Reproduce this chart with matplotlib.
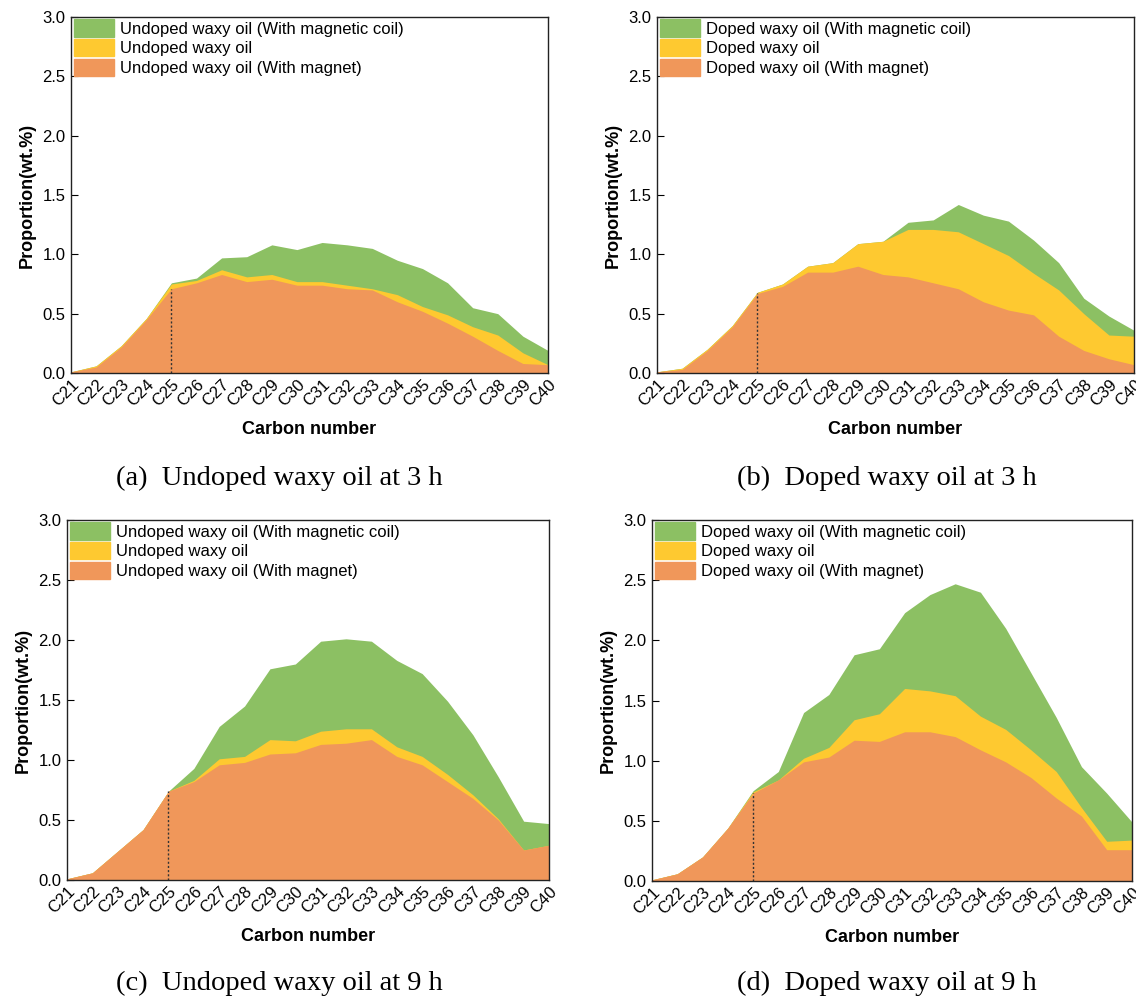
import numpy as np
import matplotlib
matplotlib.use("Agg")
import matplotlib.pyplot as plt
from matplotlib.patches import Patch

plt.rcParams['font.family'] = ['Liberation Sans', 'DejaVu Sans']

carbons = ["C%d" % n for n in range(21, 41)]

# (a) undoped, 3 h
a_coil = [0.01, 0.06, 0.23, 0.46, 0.76, 0.80, 0.97, 0.98, 1.08, 1.04, 1.10, 1.08, 1.05, 0.95, 0.88, 0.76, 0.55, 0.50, 0.31, 0.19]
a_plain = [0.01, 0.06, 0.23, 0.46, 0.75, 0.78, 0.87, 0.81, 0.83, 0.77, 0.77, 0.74, 0.71, 0.66, 0.56, 0.49, 0.39, 0.32, 0.17, 0.07]
a_magnet = [0.01, 0.05, 0.22, 0.45, 0.71, 0.76, 0.83, 0.77, 0.79, 0.74, 0.74, 0.71, 0.70, 0.60, 0.52, 0.42, 0.31, 0.19, 0.08, 0.07]

# (b) doped, 3 h
b_coil = [0.01, 0.04, 0.20, 0.40, 0.68, 0.75, 0.90, 0.93, 1.09, 1.11, 1.27, 1.29, 1.42, 1.33, 1.28, 1.12, 0.93, 0.63, 0.48, 0.36]
b_plain = [0.01, 0.04, 0.20, 0.40, 0.68, 0.75, 0.90, 0.93, 1.09, 1.11, 1.21, 1.21, 1.19, 1.09, 0.99, 0.84, 0.70, 0.50, 0.32, 0.31]
b_magnet = [0.01, 0.03, 0.19, 0.39, 0.67, 0.73, 0.85, 0.85, 0.90, 0.83, 0.81, 0.76, 0.71, 0.60, 0.53, 0.49, 0.31, 0.19, 0.12, 0.07]

# (c) undoped, 9 h
c_coil = [0.01, 0.06, 0.24, 0.42, 0.74, 0.93, 1.28, 1.45, 1.76, 1.80, 1.99, 2.01, 1.99, 1.83, 1.72, 1.49, 1.21, 0.86, 0.49, 0.47]
c_plain = [0.01, 0.06, 0.24, 0.42, 0.74, 0.83, 1.01, 1.03, 1.17, 1.16, 1.24, 1.26, 1.26, 1.11, 1.03, 0.88, 0.71, 0.51, 0.25, 0.29]
c_magnet = [0.01, 0.06, 0.24, 0.42, 0.74, 0.82, 0.96, 0.98, 1.05, 1.06, 1.13, 1.14, 1.17, 1.03, 0.96, 0.82, 0.68, 0.50, 0.25, 0.29]

# (d) doped, 9 h
d_coil = [0.01, 0.06, 0.20, 0.44, 0.75, 0.91, 1.40, 1.55, 1.88, 1.93, 2.23, 2.38, 2.47, 2.40, 2.10, 1.73, 1.36, 0.95, 0.73, 0.49]
d_plain = [0.01, 0.06, 0.20, 0.44, 0.74, 0.84, 1.02, 1.11, 1.34, 1.39, 1.60, 1.58, 1.54, 1.37, 1.26, 1.09, 0.91, 0.61, 0.33, 0.34]
d_magnet = [0.01, 0.06, 0.20, 0.44, 0.73, 0.84, 0.99, 1.03, 1.17, 1.16, 1.24, 1.24, 1.20, 1.09, 0.99, 0.86, 0.69, 0.54, 0.26, 0.26]

undoped_labels = ["Undoped waxy oil (With magnetic coil)", "Undoped waxy oil", "Undoped waxy oil (With magnet)"]
doped_labels = ["Doped waxy oil (With magnetic coil)", "Doped waxy oil", "Doped waxy oil (With magnet)"]
captions = ["(a)  Undoped waxy oil at 3 h", "(b)  Doped waxy oil at 3 h",
            "(c)  Undoped waxy oil at 9 h", "(d)  Doped waxy oil at 9 h"]

GREEN = "#8cc063"
YELLOW = "#fec930"
ORANGE = "#f0975a"

W, H = 1136, 996
fig = plt.figure(figsize=(W / 100, H / 100), dpi=100)


def px_axes(x0, x1, ytop, ybot):
    return fig.add_axes([x0 / W, 1 - ybot / H, (x1 - x0) / W, (ybot - ytop) / H])


panels = [
    (px_axes(71, 548, 17, 373), a_coil, a_plain, a_magnet, undoped_labels),
    (px_axes(657, 1134, 17, 373), b_coil, b_plain, b_magnet, doped_labels),
    (px_axes(67, 549, 520, 880), c_coil, c_plain, c_magnet, undoped_labels),
    (px_axes(652, 1132, 520, 881), d_coil, d_plain, d_magnet, doped_labels),
]

x = np.arange(len(carbons))
for ax, coil, plain, magnet, labels in panels:
    ax.fill_between(x, 0, coil, color=GREEN, lw=0)
    ax.fill_between(x, 0, plain, color=YELLOW, lw=0)
    ax.fill_between(x, 0, magnet, color=ORANGE, lw=0)
    ax.vlines(4, 0, magnet[4], colors="#333333", linestyles=(0, (1.5, 1.5)), lw=1)
    ax.set_xlim(0, len(carbons) - 1)
    ax.set_ylim(0, 3.0)
    ax.set_yticks(np.arange(0, 3.01, 0.5))
    ax.set_yticklabels(["%.1f" % v for v in np.arange(0, 3.01, 0.5)])
    ax.set_xticks(x)
    ax.set_xticklabels(carbons, rotation=45, ha="right", rotation_mode="anchor")
    ax.tick_params(axis="both", direction="in", labelsize=12, length=5, width=0.8)
    ax.tick_params(axis="x", length=0, pad=3)
    ax.tick_params(axis="y", pad=4)
    for s in ax.spines.values():
        s.set_linewidth(1.0)
        s.set_color("#222222")
    ax.set_xlabel("Carbon number", fontsize=13, fontweight="bold", labelpad=8)
    ax.set_ylabel("Proportion(wt.%)", fontsize=13, fontweight="bold", labelpad=5)
    handles = [Patch(color=GREEN), Patch(color=YELLOW), Patch(color=ORANGE)]
    ax.legend(handles, labels, loc="upper left", frameon=False, fontsize=12,
              borderaxespad=0.05, borderpad=0.1, labelspacing=0.15,
              handlelength=2.4, handleheight=1.2, handletextpad=0.4)

cap_pos = [(279, 485), (887, 485), (279, 990), (887, 990)]
for (cx, cy), txt in zip(cap_pos, captions):
    fig.text(cx / W, 1 - cy / H, txt, ha="center", va="baseline", fontsize=20.5,
             family=["Liberation Serif", "DejaVu Serif"])

fig.savefig("out.png", dpi=100)
